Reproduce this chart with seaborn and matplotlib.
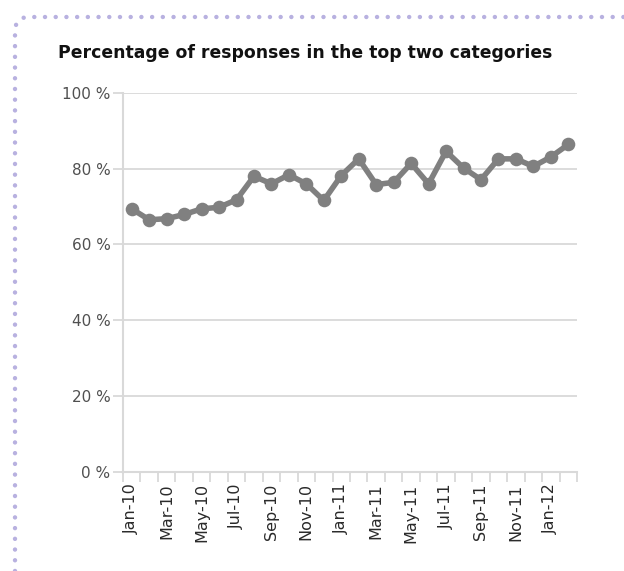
import numpy as np
import pandas as pd
import matplotlib
matplotlib.use("Agg")
import matplotlib.pyplot as plt
from matplotlib.lines import Line2D
import seaborn as sns

months = ["Jan-10", "Feb-10", "Mar-10", "Apr-10", "May-10", "Jun-10", "Jul-10",
          "Aug-10", "Sep-10", "Oct-10", "Nov-10", "Dec-10", "Jan-11", "Feb-11",
          "Mar-11", "Apr-11", "May-11", "Jun-11", "Jul-11", "Aug-11", "Sep-11",
          "Oct-11", "Nov-11", "Dec-11", "Jan-12", "Feb-12"]
pct = [69.4, 66.5, 66.8, 67.9, 69.4, 69.8, 71.8, 78.0, 76.0, 78.4, 76.0, 71.6, 78.2,
       82.6, 75.8, 76.4, 81.4, 76.0, 84.6, 80.2, 77.1, 82.6, 82.6, 80.6, 83.1, 86.4]
yticks = [0, 20, 40, 60, 80, 100]
title = "Percentage of responses in the top two categories"

df = pd.DataFrame({"month": months, "pct": pct})

sns.set_theme(style="white")
plt.rcParams["font.family"] = ["DejaVu Sans"]

W, H = 624, 571
fig = plt.figure(figsize=(W / 100, H / 100), dpi=100)
ax = fig.add_axes([123 / W, (H - 471.5) / H, (577 - 123) / W, (471.5 - 93) / H])

grid_c = "#d9d9d9"
for v in yticks[1:]:
    ax.axhline(v, color=grid_c, lw=1.3, zorder=0)

sns.lineplot(data=df, x="month", y="pct", sort=False, ax=ax, color="#808080",
             lw=4.0, marker="o", markersize=9.8, markeredgewidth=0, zorder=3)

n = len(months)
ax.set_xlim(-0.5, n - 0.5)
ax.set_ylim(0, 100)
ax.set_xlabel("")
ax.set_ylabel("")

ax.set_xticks(np.arange(0, n, 2))
ax.set_xticklabels(months[::2], rotation=90, fontsize=11.5, color="#2a2a2a")
ax.set_xticks(np.arange(-0.5, n, 1), minor=True)
ax.tick_params(axis="x", which="major", length=0, pad=8.5)
ax.tick_params(axis="x", which="minor", length=7, width=1.3, color=grid_c, direction="out")
ax.xaxis.set_ticks_position("bottom")

ax.set_yticks(yticks)
ax.set_yticklabels([f"{v} %" for v in yticks], fontsize=11, color="#505050")
ax.tick_params(axis="y", length=7.5, width=1.3, color=grid_c, pad=1.5, direction="out")
ax.yaxis.set_ticks_position("left")

for s in ["top", "right"]:
    ax.spines[s].set_visible(False)
for s in ["left", "bottom"]:
    ax.spines[s].set_color(grid_c)
    ax.spines[s].set_linewidth(1.5)

fig.text(58 / W, 1 - 53 / H, title, fontsize=12.4, fontweight="bold",
         color="#111111", ha="left", va="center")

# dotted decorative border (top-left rounded corner)
r = 13
cx, cy = 15 + r, 17 + r
ang = np.linspace(np.pi, np.pi / 2, 20)
xs = np.concatenate([[15, 15], cx + r * np.cos(ang), [W]])
ys = np.concatenate([[H, cy], cy - r * np.sin(ang), [17]])
border = Line2D(xs / W, 1 - ys / H, transform=fig.transFigure, color="#b8b1e0",
                lw=3.2, linestyle=(0, (0.01, 2.4)), dash_capstyle="round")
fig.add_artist(border)

fig.savefig("out.png", dpi=100, facecolor="white")
